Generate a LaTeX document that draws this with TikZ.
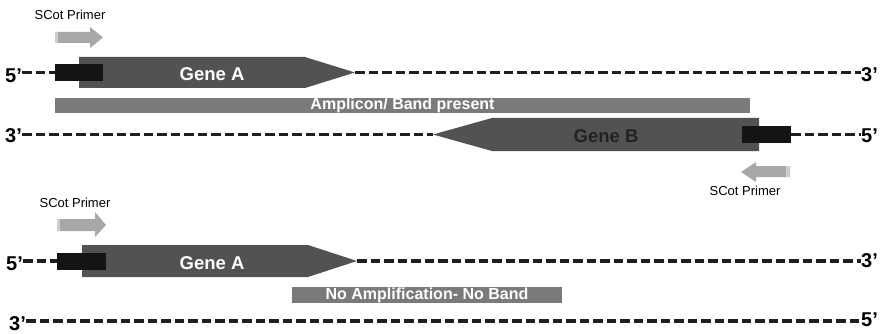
\documentclass[tikz,border=0pt]{standalone}
\usepackage{fontspec}
\setmainfont{Liberation Sans}
\definecolor{genegray}{HTML}{525252}
\definecolor{bargray}{HTML}{7A7A7A}
\definecolor{primergray}{HTML}{A8A8A8}
\definecolor{primerlight}{HTML}{CDCDCD}
\definecolor{siteblack}{HTML}{141414}
\definecolor{darktext}{HTML}{222222}
\begin{document}
\begin{tikzpicture}[x=1pt,y=-1pt,
  strand/.style={line width=3.8pt, dash pattern=on 9.5pt off 4pt, black!88},
  endlbl/.style={font=\bfseries\fontsize{20}{20}\selectfont, inner sep=0pt},
  primerlbl/.style={font=\fontsize{13}{13}\selectfont, inner sep=0pt},
  genelbl/.style={font=\bfseries\fontsize{18.5}{19}\selectfont, inner sep=0pt},
  bar/.style={fill=bargray, inner sep=0pt, minimum height=15.5pt, text=white,
    font=\bfseries\fontsize{16}{16}\selectfont},
  site/.style={fill=siteblack, inner sep=0pt, minimum width=48pt, minimum height=17pt},
  genebody/.style={fill=genegray},
  primerarrow/.style={fill=primergray},
  primerend/.style={fill=primerlight}]
\useasboundingbox (0,0) rectangle (880,334);

% ---------- upper pair: both primers bind, product formed ----------
\node[primerlbl] (prA1) at (70,15) {SCot Primer};
\fill[primerarrow] (55,32) -- (90,32) -- (90,27) -- (103,37.5) -- (90,48) -- (90,43) -- (55,43) -- cycle;
\fill[primerend] (55,32) rectangle (58,43);

% gene A on the top strand
\fill[genebody] (79,57) -- (305,57) -- (355,72.5) -- (305,88) -- (79,88) -- cycle;
\coordinate (tipA1) at (355,72.5);
\node[site] (siteA1) at (79,72.5) {};
\node[genelbl, text=white] (geneA1) at (212,74) {Gene A};
\node[endlbl, anchor=west] (p5a) at (5,76) {5’};
\node[endlbl, anchor=east] (p3a) at (878,75) {3’};
\draw[strand] (p5a.east |- siteA1.west) -- (siteA1.west);
\draw[strand] (tipA1) -- (p3a.west |- tipA1);

% amplicon
\node[bar, minimum width=695pt] (amp) at (402.5,105.5) {Amplicon/ Band present};

% gene B on the bottom strand
\fill[genebody] (759,118) -- (492,118) -- (433,134.5) -- (492,151) -- (759,151) -- cycle;
\coordinate (tipB) at (433,134.5);
\node[site, minimum width=49pt, minimum height=16pt] (siteB) at (766.5,134.5) {};
\node[genelbl, text=darktext] (geneB) at (606,136) {Gene B};
\node[endlbl, anchor=west] (p3b) at (5,136) {3’};
\node[endlbl, anchor=east] (p5b) at (878,136) {5’};
\draw[strand] (p3b.east |- tipB) -- (tipB);
\draw[strand] (siteB.east) -- (p5b.west |- siteB.east);

% reverse primer
\fill[primerarrow] (790,166) -- (756,166) -- (756,162) -- (741,172) -- (756,182) -- (756,177) -- (790,177) -- cycle;
\fill[primerend] (786,166) rectangle (790,177);
\node[primerlbl] (prB) at (745,191) {SCot Primer};

% ---------- lower pair: no second site, no product ----------
\node[primerlbl] (prA2) at (75,203) {SCot Primer};
\fill[primerarrow] (57,219) -- (95,219) -- (95,212) -- (106,225) -- (95,237) -- (95,231) -- (57,231) -- cycle;
\fill[primerend] (57,219) rectangle (60,231);

\fill[genebody] (82,245) -- (308,245) -- (357,261) -- (308,277) -- (82,277) -- cycle;
\coordinate (tipA2) at (357,261);
\node[site, minimum width=49pt] (siteA2) at (81.5,261) {};
\node[genelbl, text=white] (geneA2) at (212,263) {Gene A};
\node[endlbl, anchor=west] (p5c) at (6,264) {5’};
\node[endlbl, anchor=east] (p3c) at (878,261) {3’};
\draw[strand] (p5c.east |- siteA2.west) -- (siteA2.west);
\draw[strand] (tipA2) -- (p3c.west |- tipA2);

\node[bar, minimum width=270pt] (noamp) at (427,295) {No Amplification- No Band};

\node[endlbl, anchor=west] (p3d) at (9,323.5) {3’};
\node[endlbl, anchor=east] (p5d) at (878,320) {5’};
\coordinate (lowstrand) at (0,321);
\draw[strand] (p3d.east |- lowstrand) -- (p5d.west |- lowstrand);
\end{tikzpicture}
\end{document}
